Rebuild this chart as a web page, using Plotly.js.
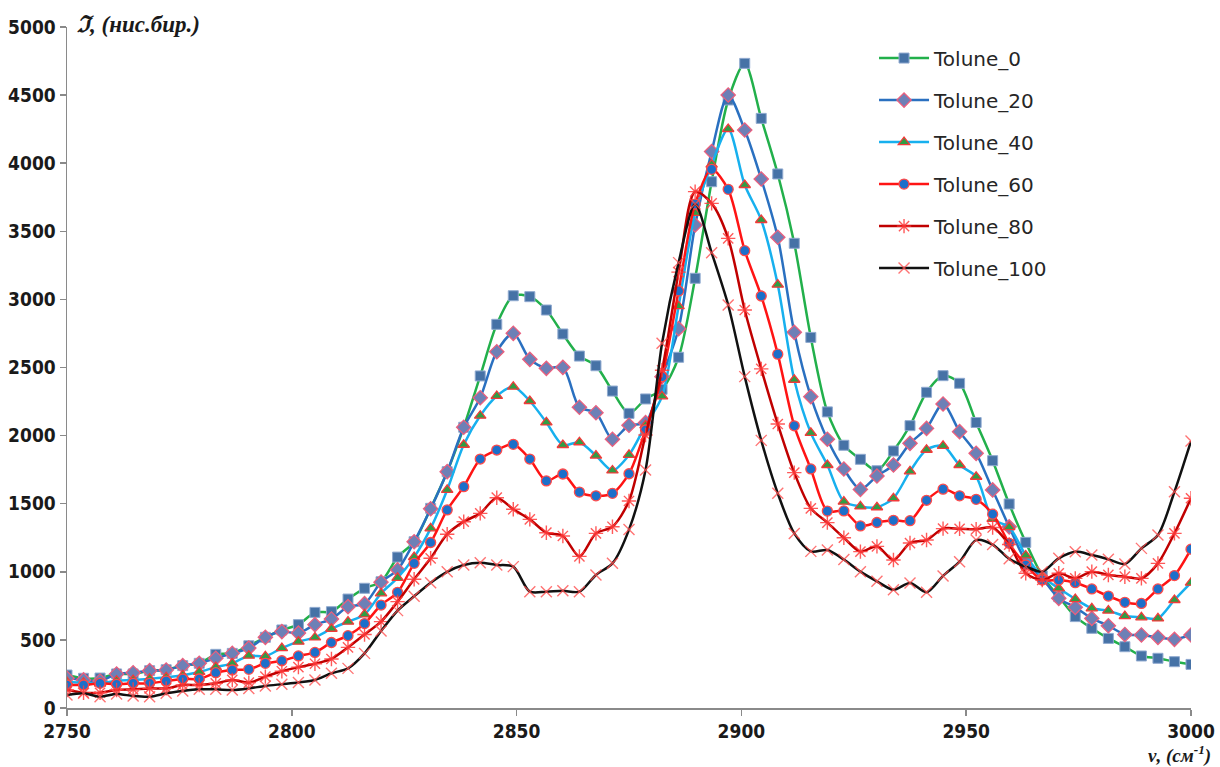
<!DOCTYPE html>
<html>
<head>
<meta charset="utf-8">
<script src="https://cdn.plot.ly/plotly-3.0.1.min.js"></script>
<style>
  html, body { margin: 0; padding: 0; background: #ffffff; }
  #chart { width: 1220px; height: 767px; }
</style>
</head>
<body>
<div id="chart"></div>
<script>
// Wavenumber (cm^-1)
const wavenumber = [
  2750.00, 2753.68, 2757.35, 2761.03, 2764.71, 2768.38, 2772.06, 2775.74, 2779.41, 2783.09,
  2786.76, 2790.44, 2794.12, 2797.79, 2801.47, 2805.15, 2808.82, 2812.50, 2816.18, 2819.85,
  2823.53, 2827.21, 2830.88, 2834.56, 2838.24, 2841.91, 2845.59, 2849.26, 2852.94, 2856.62,
  2860.29, 2863.97, 2867.65, 2871.32, 2875.00, 2878.68, 2882.35, 2886.03, 2889.71, 2893.38,
  2897.06, 2900.74, 2904.41, 2908.09, 2911.76, 2915.44, 2919.12, 2922.79, 2926.47, 2930.15,
  2933.82, 2937.50, 2941.18, 2944.85, 2948.53, 2952.21, 2955.88, 2959.56, 2963.24, 2966.91,
  2970.59, 2974.26, 2977.94, 2981.62, 2985.29, 2988.97, 2992.65, 2996.32, 3000.00
];

const tolune0 = [
  242, 218, 220, 250, 250, 274, 281, 311, 328, 394,
  401, 457, 519, 573, 612, 702, 707, 800, 879, 927,
  1108, 1221, 1466, 1735, 2061, 2438, 2817, 3027, 3020, 2922,
  2746, 2584, 2513, 2327, 2163, 2269, 2340, 2575, 3155, 3864,
  4464, 4733, 4329, 3921, 3412, 2721, 2174, 1929, 1826, 1742,
  1887, 2073, 2318, 2440, 2384, 2096, 1816, 1498, 1216, 970,
  817, 671, 585, 511, 450, 382, 365, 340, 320
];

const tolune20 = [
  218, 206, 198, 250, 259, 274, 279, 311, 328, 365,
  401, 440, 519, 561, 550, 612, 653, 744, 766, 924,
  1015, 1221, 1463, 1735, 2061, 2278, 2616, 2751, 2560, 2494,
  2501, 2208, 2168, 1973, 2076, 2095, 2433, 2785, 3546, 4085,
  4501, 4244, 3884, 3456, 2758, 2286, 1973, 1755, 1605, 1703,
  1784, 1943, 2053, 2232, 2029, 1870, 1601, 1330, 1080, 952,
  805, 739, 658, 604, 540, 536, 519, 504, 536
];

const tolune40 = [
  190, 185, 180, 200, 205, 215, 225, 240, 265, 300,
  328, 384, 380, 440, 487, 518, 582, 634, 687, 842,
  955, 1108, 1319, 1601, 1933, 2146, 2291, 2359, 2254, 2097,
  1931, 1951, 1853, 1744, 1858, 2075, 2288, 2950, 3635, 3990,
  4251, 3840, 3583, 3108, 2410, 2020, 1784, 1515, 1480, 1474,
  1540, 1738, 1896, 1925, 1784, 1698, 1388, 1328, 1120, 964,
  879, 800, 732, 715, 675, 666, 658, 793, 920
];

const tolune60 = [
  169, 169, 181, 174, 181, 181, 198, 213, 213, 259,
  279, 284, 328, 347, 382, 408, 481, 531, 620, 756,
  849, 1062, 1215, 1454, 1625, 1828, 1894, 1936, 1828, 1667,
  1718, 1585, 1558, 1576, 1720, 2041, 2433, 3062, 3700, 3955,
  3808, 3358, 3025, 2598, 2072, 1755, 1446, 1447, 1337, 1362,
  1378, 1375, 1525, 1607, 1558, 1532, 1423, 1209, 1050, 940,
  940, 920, 874, 822, 776, 768, 874, 972, 1166
];

const tolune80 = [
  132, 112, 112, 132, 137, 144, 144, 169, 169, 181,
  206, 186, 230, 270, 300, 325, 360, 445, 540, 634,
  781, 945, 1099, 1276, 1368, 1429, 1544, 1459, 1385, 1287,
  1263, 1113, 1282, 1331, 1520, 2004, 2480, 3200, 3791, 3705,
  3448, 2922, 2490, 2085, 1728, 1466, 1361, 1250, 1148, 1187,
  1087, 1211, 1233, 1317, 1316, 1313, 1325, 1200, 989, 940,
  989, 952, 1001, 977, 964, 952, 1062, 1282, 1540
];

const tolune100 = [
  95, 108, 83, 103, 88, 83, 108, 125, 137, 137,
  132, 144, 162, 175, 188, 206, 255, 291, 401, 565,
  715, 820, 920, 1000, 1050, 1067, 1050, 1038, 854, 854,
  861, 854, 977, 1062, 1310, 1747, 2678, 3270, 3700, 3343,
  2959, 2433, 1965, 1576, 1282, 1150, 1160, 1090, 1001, 930,
  868, 918, 850, 970, 1074, 1233, 1200, 1095, 1038, 1001,
  1099, 1148, 1123, 1092, 1057, 1172, 1270, 1588, 1960
];

const seriesNames = ["Tolune_0", "Tolune_20", "Tolune_40", "Tolune_60", "Tolune_80", "Tolune_100"];
const xTickVals = [2750, 2800, 2850, 2900, 2950, 3000];
const yTickVals = [0, 500, 1000, 1500, 2000, 2500, 3000, 3500, 4000, 4500, 5000];

const seriesData = [tolune0, tolune20, tolune40, tolune60, tolune80, tolune100];

const styles = [
  { line: '#22b04b', marker: { symbol: 'square', size: 10, color: '#4672a6', line: { color: '#8fa9cf', width: 1 } } },
  { line: '#2a70c0', marker: { symbol: 'diamond', size: 11, color: '#6d80b6', line: { color: '#ea5f7e', width: 1.3 } } },
  { line: '#17b0ee', marker: { symbol: 'triangle-up', size: 10, color: '#2f9e45', line: { color: '#f23a3a', width: 1.3 } } },
  { line: '#ff1414', marker: { symbol: 'circle', size: 10, color: '#1c6fca', line: { color: '#ff4a4a', width: 1.3 } } },
  { line: '#c00000', marker: { symbol: 'asterisk-open', size: 12, color: 'rgba(255,60,60,0.85)', line: { color: 'rgba(255,60,60,0.85)', width: 1.4 } } },
  { line: '#111111', marker: { symbol: 'x-thin-open', size: 11, color: 'rgba(255,80,80,0.8)', line: { color: 'rgba(255,80,80,0.8)', width: 1.4 } } }
];

const traces = seriesData.map((vals, k) => ({
  type: 'scatter',
  mode: 'lines+markers',
  name: seriesNames[k],
  legendgroup: 'g' + k,
  x: wavenumber,
  y: vals,
  line: { color: styles[k].line, width: 2.5, shape: 'spline', smoothing: 0.8 },
  marker: styles[k].marker
}));

const tickFont = { family: '"DejaVu Sans Condensed", "DejaVu Sans", sans-serif', size: 19, color: '#1a1a1a', weight: 'bold' };

const layout = {
  width: 1220,
  height: 767,
  margin: { l: 67, r: 29, t: 27, b: 59 },
  paper_bgcolor: '#ffffff',
  plot_bgcolor: '#ffffff',
  showlegend: true,
  legend: {
    x: 0.718, y: 0.983, xanchor: 'left', yanchor: 'top',
    font: { family: '"DejaVu Sans", Verdana, sans-serif', size: 20, color: '#262626' },
    traceorder: 'grouped',
    tracegroupgap: 13,
    itemwidth: 50,
    bgcolor: 'rgba(0,0,0,0)'
  },
  xaxis: {
    range: [2750, 3000],
    tickmode: 'array',
    tickvals: xTickVals,
    ticktext: xTickVals.map(String),
    showgrid: false,
    zeroline: false,
    showline: true,
    linecolor: '#8a8a8a',
    linewidth: 1.5,
    ticks: 'outside',
    ticklen: 6,
    tickwidth: 1.5,
    tickcolor: '#8a8a8a',
    tickfont: tickFont
  },
  yaxis: {
    range: [0, 5000],
    tickmode: 'array',
    tickvals: yTickVals,
    ticktext: yTickVals.map(String),
    showgrid: false,
    zeroline: false,
    showline: true,
    linecolor: '#8a8a8a',
    linewidth: 1.5,
    ticks: 'outside',
    ticklen: 6,
    tickwidth: 1.5,
    tickcolor: '#8a8a8a',
    tickfont: tickFont
  },
  annotations: [
    {
      xref: 'paper', yref: 'paper', x: 0.007, y: 1.003, xanchor: 'left', yanchor: 'middle',
      showarrow: false,
      text: '<b><i>ℑ, (нис.бир.)</i></b>',
      font: { family: '"Liberation Serif", "DejaVu Serif", serif', size: 23, color: '#1a1a1a' }
    },
    {
      xref: 'paper', yref: 'paper', x: 1.0196, y: -0.0685, xanchor: 'right', yanchor: 'middle',
      showarrow: false,
      text: '<b><i>ν, (см<sup>-1</sup>)</i></b>',
      font: { family: '"Liberation Serif", "DejaVu Serif", serif', size: 19, color: '#1a1a1a' }
    }
  ]
};

Plotly.newPlot('chart', traces, layout, { displayModeBar: false, staticPlot: true });
</script>
</body>
</html>
